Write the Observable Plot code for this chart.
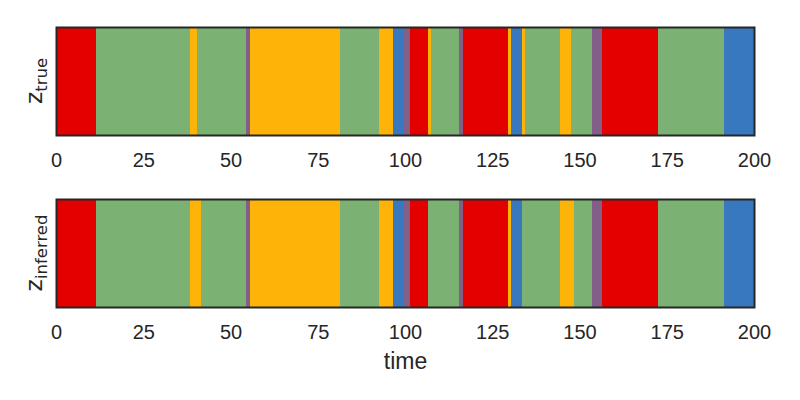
<!DOCTYPE html>
<html>
<head>
<meta charset="utf-8">
<script src="https://cdn.jsdelivr.net/npm/d3@7"></script>
<script src="https://cdn.jsdelivr.net/npm/@observablehq/plot@0.6"></script>
<style>
  html, body { margin: 0; padding: 0; background: #fff; }
  #chart { width: 800px; height: 400px; }
  #chart svg { display: block; }
</style>
</head>
<body>
<div id="chart"></div>
<script>
// State names and colours (xkcd palette)
const stateNames = ["blue", "red", "amber", "green", "purple"];
const stateColors = ["#3778bf", "#e50000", "#feb308", "#7bb274", "#825f87"];

// Segment boundaries (time) and states, true sequence
const trueBounds = [0, 11.5, 38.5, 40.5, 54.5, 55.5, 81.5, 92.5, 96.5, 99.5, 101.5, 106.5, 107.5, 115.5, 116.5, 129.5, 130.5, 133.5, 134.5, 144.5, 147.5, 153.5, 156.5, 172.5, 191.5, 200];
const trueStates = ["red", "green", "amber", "green", "purple", "amber", "green", "amber", "blue", "purple", "red", "amber", "green", "purple", "red", "amber", "blue", "amber", "green", "amber", "green", "purple", "red", "green", "blue"];

// Inferred sequence
const inferredBounds = [0, 11.5, 38.5, 41.5, 54.5, 55.5, 81.5, 92.5, 96.5, 99.5, 101.5, 106.5, 115.5, 116.5, 129.5, 130.5, 133.5, 144.5, 148.5, 153.5, 156.5, 172.5, 191.5, 200];
const inferredStates = ["red", "green", "amber", "green", "purple", "amber", "green", "amber", "blue", "purple", "red", "green", "purple", "red", "amber", "blue", "green", "amber", "green", "purple", "red", "green", "blue"];

const xTicks = [0, 25, 50, 75, 100, 125, 150, 175, 200];

function segments(bounds, states) {
  return states.map((s, i) => ({start: bounds[i], end: bounds[i + 1], state: s}));
}

const ink = "#262626";
const tickFont = "'Liberation Sans', Arial, sans-serif";

function panel(bounds, states, opts) {
  const frameH = 108;
  const svg = Plot.plot({
    width: 800,
    height: opts.height,
    marginLeft: 56,
    marginRight: 46,
    marginTop: opts.marginTop,
    marginBottom: opts.height - opts.marginTop - frameH,
    style: {fontFamily: tickFont, color: ink, background: "#fff", overflow: "visible"},
    x: {domain: [0, 200]},
    color: {domain: stateNames, range: stateColors},
    marks: [
      Plot.barX(segments(bounds, states), {x1: "start", x2: "end", fill: "state", insetLeft: 0, insetRight: 0, shapeRendering: "crispEdges"}),
      Plot.axisX({ticks: xTicks, tickSize: 0, tickPadding: 17, fontSize: 20, label: null, fill: ink}),
      ...(opts.xlabel ? [Plot.text([opts.xlabel], {frameAnchor: "bottom", lineAnchor: "bottom", dy: 61, fontSize: 23, fill: ink})] : []),
      Plot.frame({stroke: ink, strokeWidth: 2})
    ]
  });
  // y label with subscript
  const cy = opts.marginTop + frameH / 2;
  const t = d3.select(svg).append("text")
    .attr("transform", `translate(42,${cy}) rotate(-90)`)
    .attr("text-anchor", "middle")
    .attr("font-family", "'DejaVu Sans', sans-serif")
    .attr("fill", ink);
  t.append("tspan").attr("font-size", 23.5).text("z");
  t.append("tspan").attr("font-size", 16.5).attr("dy", 5).text(opts.sub);
  return svg;
}

const chart = document.getElementById("chart");
chart.appendChild(panel(trueBounds, trueStates, {height: 172, marginTop: 27, sub: "true"}));
chart.appendChild(panel(inferredBounds, inferredStates, {height: 228, marginTop: 27, sub: "inferred", xlabel: "time"}));
</script>
</body>
</html>
